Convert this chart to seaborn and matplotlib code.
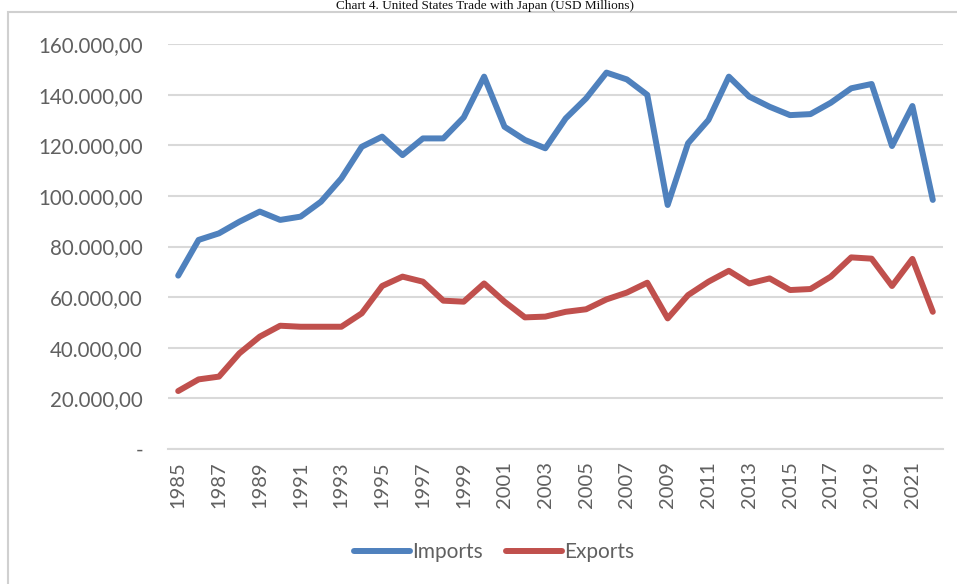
import numpy as np
import pandas as pd
import matplotlib
matplotlib.use("Agg")
import matplotlib.pyplot as plt
from matplotlib.patches import Rectangle
from matplotlib.lines import Line2D
import seaborn as sns

years = list(range(1985, 2023))
imports = [68500, 82600, 85200, 89800, 93800, 90500, 91800, 97700, 106900, 119400,
           123400, 116100, 122700, 122700, 131000, 147100, 127300, 122100, 118800, 130600,
           138500, 148700, 146000, 139900, 96400, 120800, 130000, 147100, 139200, 135200,
           131900, 132300, 136800, 142500, 144200, 119700, 135500, 98400]
exports = [22900, 27500, 28600, 37800, 44400, 48700, 48300, 48300, 48300, 53600,
           64400, 68100, 66100, 58600, 58200, 65400, 58200, 52000, 52300, 54200,
           55200, 59100, 61800, 65700, 51600, 60800, 66100, 70400, 65400, 67400,
           62800, 63200, 68100, 75700, 75200, 64400, 75100, 54200]
series_names = ["Imports", "Exports"]
y_ticks = [0, 20000, 40000, 60000, 80000, 100000, 120000, 140000, 160000]
title_text = "Chart 4. United States Trade with Japan (USD Millions)"

df = pd.DataFrame({
    "pos": list(range(len(years))) * 2,
    "value": imports + exports,
    "series": ["Imports"] * len(years) + ["Exports"] * len(years),
})

sns.set_theme(style="white")
plt.rcParams["font.family"] = ["Lato", "DejaVu Sans"]

fig = plt.figure(figsize=(9.57, 5.84), dpi=100)
ax = fig.add_axes([168 / 957, 1 - 449 / 584, (943 - 168) / 957, (449 - 44) / 584])

palette = {"Imports": "#4F81BD", "Exports": "#C0504D"}
sns.lineplot(data=df, x="pos", y="value", hue="series", hue_order=series_names,
             palette=palette, linewidth=4.3, ax=ax, legend=False,
             solid_capstyle="round", solid_joinstyle="round", zorder=3)

ax.set_xlim(-0.5, len(years) - 0.5)
ax.set_ylim(0, 160000)
ax.set_yticks(y_ticks)

def fmt(v):
    if v == 0:
        return "-"
    s = f"{v:,.2f}"
    return s.replace(",", "X").replace(".", ",").replace("X", ".")

ax.set_yticklabels([fmt(v) for v in y_ticks])
ax.set_xticks(list(range(0, len(years), 2)))
ax.set_xticklabels([str(years[i]) for i in range(0, len(years), 2)], rotation=90)
ax.grid(axis="y", color="#d9d9d9", linewidth=1.5, zorder=0)
ax.grid(axis="x", visible=False)
for s in ["top", "right", "left"]:
    ax.spines[s].set_visible(False)
ax.spines["bottom"].set_color("#d9d9d9")
ax.spines["bottom"].set_linewidth(1.5)
ax.tick_params(axis="y", length=0, colors="#606060", labelsize=14.8, pad=18)
ax.tick_params(axis="x", length=0, colors="#606060", labelsize=14.5, pad=9)
ax.set_xlabel("")
ax.set_ylabel("")
ax.set_facecolor("none")

# chart area border
fig.patches.append(Rectangle((8 / 957, -0.1), 1.2, 1 - 12 / 584 + 0.1,
                             transform=fig.transFigure, fill=False,
                             edgecolor="#d0d0d0", linewidth=1.5))

# title above the chart area
fig.text(485 / 957, 1 - 9.5 / 584, title_text, ha="center", va="baseline",
         fontsize=9.5, family=["Liberation Serif"], color="#111111")

handles = [Line2D([0], [0], color=palette[n], linewidth=4.3, solid_capstyle="round")
           for n in series_names]
fig.legend(handles, series_names, loc="center", bbox_to_anchor=(494 / 957, 1 - 552 / 584),
           ncol=2, frameon=False, fontsize=15, handlelength=2.7, handletextpad=0.1,
           columnspacing=1.1, labelcolor="#606060")

fig.savefig("out.png", dpi=100)
